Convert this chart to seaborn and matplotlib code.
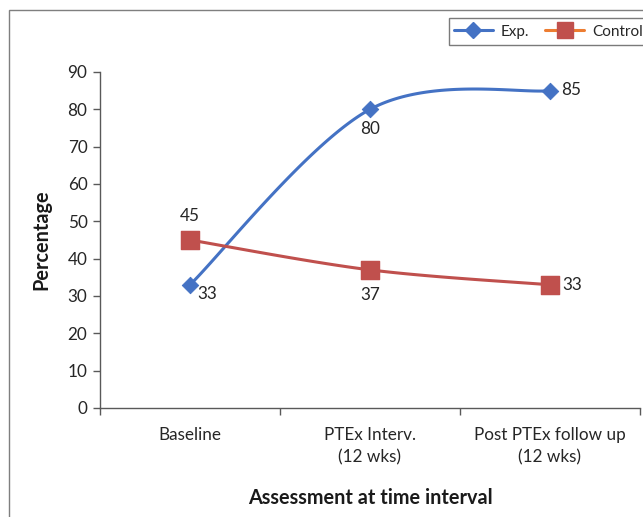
import numpy as np
import pandas as pd
import matplotlib
matplotlib.use("Agg")
import matplotlib.pyplot as plt
import seaborn as sns
from matplotlib.lines import Line2D
from matplotlib.patches import Rectangle

categories = ["Baseline", "PTEx Interv.\n(12 wks)", "Post PTEx follow up\n(12 wks)"]
exp_values = [33, 80, 85]
control_values = [45, 37, 33]
yticks = [0, 10, 20, 30, 40, 50, 60, 70, 80, 90]

sns.set_theme(style="white")
plt.rcParams['font.family'] = ['Lato', 'DejaVu Sans']

BLUE = "#4472C4"
RED = "#C0504D"
ORANGE = "#ED7D31"
AX = "#595959"
TXT = "#262626"
FS = 12.3


def smooth(xs, ys, n=60):
    # Excel-like smoothed line (Catmull-Rom via cubic Bezier)
    pts = np.column_stack([xs, ys]).astype(float)
    out = []
    m = len(pts)
    for i in range(m - 1):
        p0 = pts[max(i - 1, 0)]
        p1 = pts[i]
        p2 = pts[i + 1]
        p3 = pts[min(i + 2, m - 1)]
        c1 = p1 + (p2 - p0) / 6.0
        c2 = p2 - (p3 - p1) / 6.0
        t = np.linspace(0, 1, n)[:, None]
        seg = ((1 - t) ** 3) * p1 + 3 * ((1 - t) ** 2) * t * c1 + 3 * (1 - t) * t ** 2 * c2 + t ** 3 * p2
        out.append(seg if i == 0 else seg[1:])
    out = np.vstack(out)
    return out[:, 0], out[:, 1]


fig = plt.figure(figsize=(6.43, 5.17), dpi=100)
ax = fig.add_axes([100 / 643, 1 - 408 / 517, 540 / 643, (408 - 72) / 517])

xpos = np.arange(len(categories))
sx, sy = smooth(xpos, exp_values)
cx, cy = smooth(xpos, control_values)
df_e = pd.DataFrame({"x": sx, "y": sy})
df_c = pd.DataFrame({"x": cx, "y": cy})
sns.lineplot(data=df_e, x="x", y="y", ax=ax, color=BLUE, lw=2.2, sort=False, estimator=None)
sns.lineplot(data=df_c, x="x", y="y", ax=ax, color=RED, lw=2.2, sort=False, estimator=None)
sns.scatterplot(x=xpos, y=exp_values, ax=ax, marker="D", s=70, color=BLUE, edgecolor=BLUE, zorder=5)
sns.scatterplot(x=xpos, y=control_values, ax=ax, marker="s", s=170, color=RED, edgecolor=RED, zorder=5)

exp_offsets = [(17, -9), (0, -20), (21, 1)]
ctl_offsets = [(0, 24), (0, -25), (22, 0)]
for x, v, off in zip(xpos, exp_values, exp_offsets):
    ax.annotate(str(v), (x, v), xytext=off, textcoords="offset pixels", ha="center", va="center",
                fontsize=FS, color=TXT)
for x, v, off in zip(xpos, control_values, ctl_offsets):
    ax.annotate(str(v), (x, v), xytext=off, textcoords="offset pixels", ha="center", va="center",
                fontsize=FS, color=TXT)

ax.set_xlim(-0.5, 2.5)
ax.set_ylim(0, 90)
ax.set_yticks(yticks)
ax.set_yticklabels([str(t) for t in yticks], fontsize=FS, color=TXT)
ax.set_xticks(np.arange(-0.5, 2.6, 1.0))
ax.set_xticklabels([])
ax.set_xticks(xpos, minor=True)
ax.set_xticklabels(categories, minor=True, fontsize=FS, color=TXT, linespacing=1.45)
ax.tick_params(axis="x", which="major", length=5, width=1, color=AX, direction="out", bottom=True)
ax.tick_params(axis="x", which="minor", length=0, pad=14)
ax.tick_params(axis="y", length=5, width=1, color=AX, direction="out", left=True, pad=4)
for s in ["top", "right"]:
    ax.spines[s].set_visible(False)
for s in ["left", "bottom"]:
    ax.spines[s].set_color(AX)
    ax.spines[s].set_linewidth(1)
ax.set_xlabel("Assessment at time interval", fontsize=14.3, fontweight="bold", labelpad=16, color="#1a1a1a")
ax.set_ylabel("Percentage", fontsize=14.3, fontweight="bold", labelpad=12, color="#1a1a1a")

# figure border
fig.patches.append(Rectangle((9 / 643, -0.1), 2, 1 - 10 / 517 + 0.1, transform=fig.transFigure,
                             fill=False, edgecolor="#7f7f7f", lw=1))

handles = [
    Line2D([], [], color=BLUE, lw=2.2, marker="D", markersize=8, markerfacecolor=BLUE, markeredgecolor=BLUE),
    Line2D([], [], color=ORANGE, lw=2.2, marker="s", markersize=11, markerfacecolor=RED, markeredgecolor=RED),
]
leg = fig.legend(handles, ["Exp.", "Control"], loc="upper left", bbox_to_anchor=(449 / 643, 1 - 18 / 517),
                 ncol=2, frameon=True, fancybox=False, fontsize=11, handlelength=2.6, columnspacing=1.0,
                 handletextpad=0.5, borderpad=0.3, handleheight=1.4, borderaxespad=0)
leg.get_frame().set_edgecolor("#595959")
leg.get_frame().set_linewidth(1)

fig.savefig("out.png", dpi=100)
